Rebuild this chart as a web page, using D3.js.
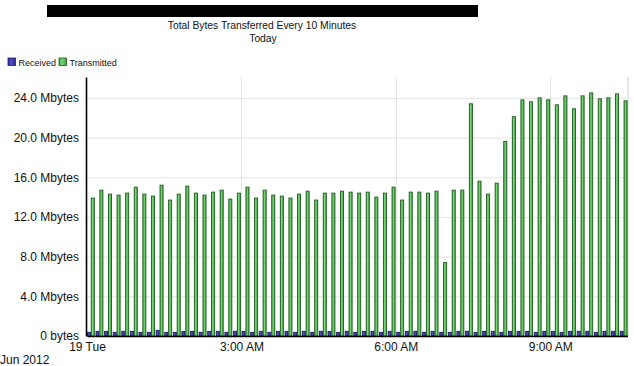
<!DOCTYPE html>
<html><head><meta charset="utf-8">
<script src="https://cdn.jsdelivr.net/npm/d3@7"></script>
<style>body{margin:0;background:#fff}svg{display:block;font-family:"Liberation Sans",Arial,sans-serif}</style>
</head><body><svg id="c" width="634" height="366"></svg>
<script>
const titleLines = ["Total Bytes Transferred Every 10 Minutes", "Today"];
const seriesNames = ["Received", "Transmitted"];
const seriesColors = ["#3b3bb0", "#55c455"];
const slotCount = 63; // 10-minute slots from 00:00 to 10:20
const slots = d3.range(slotCount);
const transmitted = [13.9,14.7,14.3,14.2,14.4,15.0,14.3,14.1,15.2,13.7,
  14.3,15.1,14.4,14.2,14.5,14.7,13.8,14.4,15.0,13.9,
  14.7,14.2,14.1,13.9,14.3,14.6,13.7,14.4,14.4,14.6,
  14.5,14.4,14.5,14.0,14.4,15.0,13.7,14.5,14.5,14.4,
  14.6,7.4,14.7,14.7,23.4,15.6,14.3,15.4,19.6,22.1,
  23.8,23.6,24.0,23.8,23.3,24.2,22.9,24.2,24.5,23.9,
  24.0,24.4,23.7];
const received = [0.37,0.47,0.47,0.37,0.47,0.47,0.37,0.37,0.57,0.37,
  0.37,0.47,0.47,0.37,0.47,0.47,0.37,0.47,0.47,0.37,
  0.47,0.37,0.47,0.47,0.37,0.47,0.37,0.47,0.47,0.37,
  0.47,0.37,0.47,0.47,0.37,0.47,0.37,0.47,0.47,0.37,
  0.47,0.37,0.37,0.47,0.47,0.37,0.47,0.47,0.37,0.47,
  0.47,0.47,0.37,0.47,0.47,0.37,0.47,0.47,0.47,0.37,
  0.47,0.47,0.47];
const yTicks = [0,4,8,12,16,20,24];
const yTickLabels = ["0 bytes","4.0 Mbytes","8.0 Mbytes","12.0 Mbytes","16.0 Mbytes","20.0 Mbytes","24.0 Mbytes"];
const xTickMinutes = [0,180,360,540];
const xTickLabels = ["19 Tue","3:00 AM","6:00 AM","9:00 AM"];
const dateLabel = "Jun 2012";

const svg = d3.select("#c");
const L = 87, R = 627.5, T = 77, B = 336;
const y = d3.scaleLinear().domain([0, 26.1]).range([B, T]);
const xt = d3.scaleLinear().domain([0, slotCount*10]).range([L, R]);
const x0 = d3.scaleBand().domain(slots).range([L, R]).paddingInner(0.1).paddingOuter(0);
const x1 = d3.scaleBand().domain([0,1]).range([0, x0.bandwidth()]);

const defs = svg.append("defs");
function grad(id, stops){
  const g = defs.append("linearGradient").attr("id", id).attr("x1","0").attr("x2","1").attr("y1","0").attr("y2","0");
  stops.forEach(s => g.append("stop").attr("offset", s[0]).attr("stop-color", s[1]));
}
grad("gG", [[0,"#3c9e3c"],[0.4,"#78dc78"],[1,"#3a9a3a"]]);
grad("gB", [[0,"#2a2a90"],[0.4,"#5050c8"],[1,"#2a2a88"]]);

// redacted header block
svg.append("rect").attr("x",47).attr("y",5).attr("width",431).attr("height",12).attr("fill","#000");

svg.append("text").attr("x",262).attr("y",29).attr("text-anchor","middle").attr("font-size",10.3).attr("fill","#111").text(titleLines[0]);
svg.append("text").attr("x",263).attr("y",42).attr("text-anchor","middle").attr("font-size",10.3).attr("fill","#111").text(titleLines[1]);

// legend
const lg = svg.append("g");
const legX = [8, 59];
seriesNames.forEach((n,i)=>{
  lg.append("rect").attr("x",legX[i]).attr("y",58).attr("width",7.5).attr("height",7.5)
    .attr("fill", i? "url(#gG)":"url(#gB)").attr("stroke", i? "#245c24":"#1c1c66").attr("stroke-width",0.8);
  lg.append("text").attr("x",legX[i]+10.5).attr("y",65.5).attr("font-size",9).attr("fill","#111").text(n);
});

// gridlines
svg.append("g").selectAll("line").data(yTicks.slice(1)).join("line")
  .attr("x1",L).attr("x2",R).attr("y1",d=>y(d)+0.5).attr("y2",d=>y(d)+0.5)
  .attr("stroke","#e4e4e4").attr("stroke-width",1);
svg.append("g").selectAll("line").data(xTickMinutes.slice(1)).join("line")
  .attr("x1",d=>Math.round(xt(d))+0.5).attr("x2",d=>Math.round(xt(d))+0.5).attr("y1",T).attr("y2",B)
  .attr("stroke","#e4e4e4").attr("stroke-width",1);
svg.append("line").attr("x1",R+0.5).attr("x2",R+0.5).attr("y1",T).attr("y2",B).attr("stroke","#d0d0d0");

// bars
const series = [received, transmitted];
const g = svg.append("g");
slots.forEach(i=>{
  series.forEach((arr,s)=>{
    const v = arr[i];
    g.append("rect")
      .attr("x", x0(i)+x1(s)+0.4)
      .attr("y", y(v))
      .attr("width", x1.bandwidth()-0.8)
      .attr("height", B - y(v))
      .attr("fill", s? "url(#gG)":"url(#gB)")
      .attr("stroke", s? "#235a23":"#1c1c66")
      .attr("stroke-width", 0.9);
  });
});

// axes
const yAxis = d3.axisLeft(y).tickValues(yTicks).tickFormat((d,i)=>yTickLabels[i]).tickSize(0).tickPadding(7);
const ya = svg.append("g").attr("transform",`translate(${L-1},0)`).call(yAxis);
ya.select(".domain").attr("stroke","#000").attr("stroke-width",1.6);
ya.selectAll("text").attr("font-size",12).attr("fill","#111").attr("font-family","Liberation Sans, Arial, sans-serif");

const xAxis = d3.axisBottom(xt).tickValues(xTickMinutes).tickFormat((d,i)=>xTickLabels[i]).tickSize(0).tickPadding(6);
const xa = svg.append("g").attr("transform",`translate(0,${B})`).call(xAxis);
xa.select(".domain").attr("stroke","#000").attr("stroke-width",1.6);
xa.selectAll("text").attr("font-size",12).attr("fill","#111").attr("font-family","Liberation Sans, Arial, sans-serif");

svg.append("text").attr("x",0).attr("y",364).attr("font-size",12).attr("fill","#111").text(dateLabel);
</script></body></html>
